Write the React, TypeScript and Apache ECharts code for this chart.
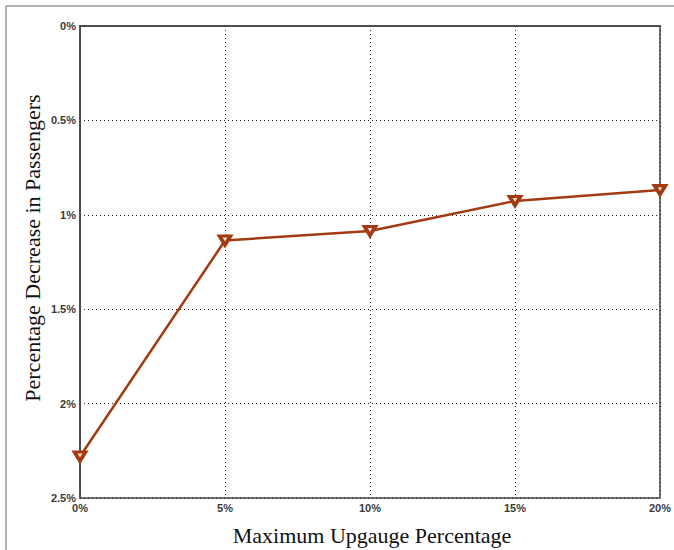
import React, { useEffect, useRef } from "react";
import * as echarts from "echarts";

const upgaugePct: number[] = [0, 5, 10, 15, 20];
const passengerDecrease: number[] = [2.28, 1.136, 1.086, 0.927, 0.869];
const xTicks: number[] = [0, 5, 10, 15, 20];
const yTicks: number[] = [0, 0.5, 1, 1.5, 2, 2.5];

export default function App() {
  const ref = useRef<HTMLDivElement>(null);
  useEffect(() => {
    if (!ref.current) return;
    const chart = echarts.init(ref.current, null, { renderer: "svg" });
    const tickFont = {
      fontFamily: "Liberation Sans, Arial, sans-serif",
      fontSize: 11,
      fontWeight: "bold",
      color: "#3a3a3a",
    };
    chart.setOption({
      animation: false,
      backgroundColor: "#fff",
      grid: {
        left: 80,
        right: 12,
        top: 26,
        bottom: 52,
        show: true,
        borderColor: "#444",
        borderWidth: 1.5,
        backgroundColor: "#fff",
      },
      xAxis: {
        type: "value",
        min: xTicks[0],
        max: xTicks[xTicks.length - 1],
        interval: 5,
        axisLine: { show: true, lineStyle: { color: "#444", width: 1.5 } },
        axisTick: { show: false },
        axisLabel: { ...tickFont, margin: 4, formatter: (v: number) => `${v}%` },
        splitLine: { show: true, lineStyle: { color: "#222", type: [1, 3], width: 1 } },
      },
      yAxis: {
        type: "value",
        inverse: true,
        min: yTicks[0],
        max: yTicks[yTicks.length - 1],
        interval: 0.5,
        axisLine: { show: true, lineStyle: { color: "#444", width: 1.5 } },
        axisTick: { show: false },
        axisLabel: { ...tickFont, margin: 4, formatter: (v: number) => `${v}%` },
        splitLine: { show: true, lineStyle: { color: "#222", type: [1, 3], width: 1 } },
      },
      graphic: [
        {
          type: "line",
          shape: { x1: 6, y1: 6, x2: 674, y2: 6 },
          style: { stroke: "#999", lineWidth: 1.5 },
        },
        {
          type: "line",
          shape: { x1: 6, y1: 6, x2: 6, y2: 550 },
          style: { stroke: "#999", lineWidth: 1.5 },
        },
        {
          type: "text",
          x: 32,
          y: 248,
          rotation: Math.PI / 2,
          style: {
            text: "Percentage Decrease in Passengers",
            fontFamily: "Liberation Serif, Times New Roman, serif",
            fontSize: 22,
            fill: "#111",
            align: "center",
            verticalAlign: "middle",
          },
        },
        {
          type: "text",
          x: 372,
          y: 535,
          style: {
            text: "Maximum Upgauge Percentage",
            fontFamily: "Liberation Serif, Times New Roman, serif",
            fontSize: 22,
            fill: "#111",
            align: "center",
            verticalAlign: "middle",
          },
        },
      ],
      series: [
        {
          type: "line",
          data: upgaugePct.map((x, i) => [x, passengerDecrease[i]]),
          lineStyle: { color: "#a33a12", width: 2.5 },
          itemStyle: { color: "#f4e0d8", borderColor: "#a33a12", borderWidth: 3.5 },
          symbol: "triangle",
          symbolRotate: 180,
          symbolSize: [11, 9],
          z: 5,
        },
      ],
    });
    return () => chart.dispose();
  }, []);
  return <div ref={ref} style={{ width: 674, height: 550, position: "absolute", left: 0, top: 0 }} />;
}
